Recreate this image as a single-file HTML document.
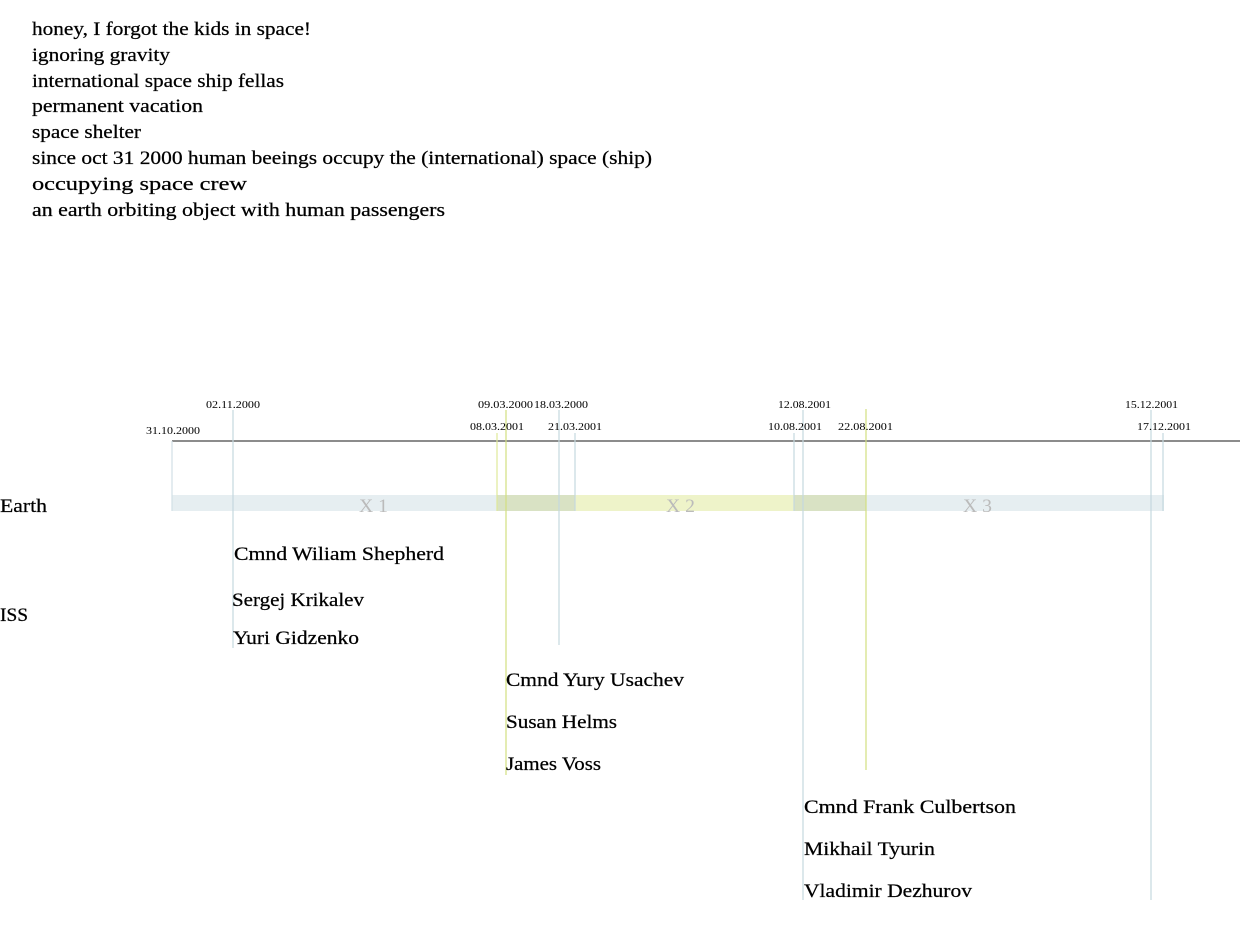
<!DOCTYPE html>
<html><head><meta charset="utf-8"><style>
html,body{margin:0;padding:0;background:#fff;width:1240px;height:930px;overflow:hidden}
svg{display:block}
text{font-family:"Liberation Serif",serif;fill:#000}
.t{font-size:19px;stroke:#000;stroke-width:0.25}
.d{font-size:10px}
.n{font-size:19px;stroke:#000;stroke-width:0.25}
.x{font-size:19px;fill:#bbb}
</style></head><body>
<svg width="1240" height="930" viewBox="0 0 1240 930">
<text x="32" y="35" class="t" textLength="279" lengthAdjust="spacingAndGlyphs">honey, I forgot the kids in space!</text>
<text x="32" y="61" class="t" textLength="138" lengthAdjust="spacingAndGlyphs">ignoring gravity</text>
<text x="32" y="87" class="t" textLength="252" lengthAdjust="spacingAndGlyphs">international space ship fellas</text>
<text x="32" y="112" class="t" textLength="171" lengthAdjust="spacingAndGlyphs">permanent vacation</text>
<text x="32" y="138" class="t" textLength="109" lengthAdjust="spacingAndGlyphs">space shelter</text>
<text x="32" y="164" class="t" textLength="620" lengthAdjust="spacingAndGlyphs">since oct 31 2000 human beeings occupy the (international) space (ship)</text>
<text x="32" y="190" class="t" textLength="215" lengthAdjust="spacingAndGlyphs">occupying space crew</text>
<text x="32" y="216" class="t" textLength="413" lengthAdjust="spacingAndGlyphs">an  earth orbiting object with human passengers</text>
<!-- bars -->
<rect x="172" y="495" width="992" height="16" fill="#e6eef1"/>
<rect x="497" y="495" width="369" height="16" fill="#eef3c9"/>
<rect x="497" y="495" width="78" height="16" fill="#d9e2c4"/>
<rect x="794" y="495" width="72" height="16" fill="#d9e2c4"/>
<!-- axis -->
<line x1="172" y1="441" x2="1240" y2="441" stroke="#666" stroke-width="1.5"/>
<!-- verticals -->
<g stroke-width="1.2">
<line x1="172" y1="441" x2="172" y2="511" stroke="#d3e0e5"/>
<line x1="233" y1="410" x2="233" y2="648" stroke="#c5d8de"/>
<line x1="497" y1="433" x2="497" y2="511" stroke="#dfe89a"/>
<line x1="506" y1="410" x2="506" y2="775" stroke="#d3df80"/>
<line x1="559" y1="410" x2="559" y2="645" stroke="#c5d8de"/>
<line x1="575" y1="433" x2="575" y2="511" stroke="#c5d8de"/>
<line x1="794" y1="433" x2="794" y2="511" stroke="#c5d8de"/>
<line x1="803" y1="410" x2="803" y2="900" stroke="#c5d8de"/>
<line x1="866" y1="409" x2="866" y2="770" stroke="#d3df80"/>
<line x1="1151" y1="410" x2="1151" y2="900" stroke="#c5d8de"/>
<line x1="1163" y1="433" x2="1163" y2="511" stroke="#c5d8de"/>
</g>
<!-- date labels -->
<text x="146" y="434" class="d" textLength="54" lengthAdjust="spacingAndGlyphs">31.10.2000</text>
<text x="206" y="408" class="d" textLength="54" lengthAdjust="spacingAndGlyphs">02.11.2000</text>
<text x="478" y="408" class="d" textLength="55" lengthAdjust="spacingAndGlyphs">09.03.2000</text>
<text x="534" y="408" class="d" textLength="54" lengthAdjust="spacingAndGlyphs">18.03.2000</text>
<text x="470" y="430" class="d" textLength="54" lengthAdjust="spacingAndGlyphs">08.03.2001</text>
<text x="548" y="430" class="d" textLength="54" lengthAdjust="spacingAndGlyphs">21.03.2001</text>
<text x="778" y="408" class="d" textLength="53" lengthAdjust="spacingAndGlyphs">12.08.2001</text>
<text x="768" y="430" class="d" textLength="54" lengthAdjust="spacingAndGlyphs">10.08.2001</text>
<text x="838" y="430" class="d" textLength="55" lengthAdjust="spacingAndGlyphs">22.08.2001</text>
<text x="1125" y="408" class="d" textLength="53" lengthAdjust="spacingAndGlyphs">15.12.2001</text>
<text x="1137" y="430" class="d" textLength="54" lengthAdjust="spacingAndGlyphs">17.12.2001</text>
<text x="359" y="512" class="x" textLength="29" lengthAdjust="spacingAndGlyphs">X 1</text>
<text x="666" y="512" class="x" textLength="29" lengthAdjust="spacingAndGlyphs">X 2</text>
<text x="963" y="512" class="x" textLength="29" lengthAdjust="spacingAndGlyphs">X 3</text>
<text x="0" y="512" class="n" textLength="47" lengthAdjust="spacingAndGlyphs">Earth</text>
<text x="0" y="621" class="n" textLength="28" lengthAdjust="spacingAndGlyphs">ISS</text>
<text x="234" y="560" class="n" textLength="210" lengthAdjust="spacingAndGlyphs">Cmnd Wiliam Shepherd</text>
<text x="232" y="606" class="n" textLength="132" lengthAdjust="spacingAndGlyphs">Sergej Krikalev</text>
<text x="233" y="644" class="n" textLength="126" lengthAdjust="spacingAndGlyphs">Yuri Gidzenko</text>
<text x="506" y="686" class="n" textLength="178" lengthAdjust="spacingAndGlyphs">Cmnd Yury Usachev</text>
<text x="506" y="728" class="n" textLength="111" lengthAdjust="spacingAndGlyphs">Susan Helms</text>
<text x="506" y="770" class="n" textLength="95" lengthAdjust="spacingAndGlyphs">James Voss</text>
<text x="804" y="813" class="n" textLength="212" lengthAdjust="spacingAndGlyphs">Cmnd Frank Culbertson</text>
<text x="804" y="855" class="n" textLength="131" lengthAdjust="spacingAndGlyphs">Mikhail Tyurin</text>
<text x="804" y="897" class="n" textLength="168" lengthAdjust="spacingAndGlyphs">Vladimir Dezhurov</text>
</svg>
</body></html>
